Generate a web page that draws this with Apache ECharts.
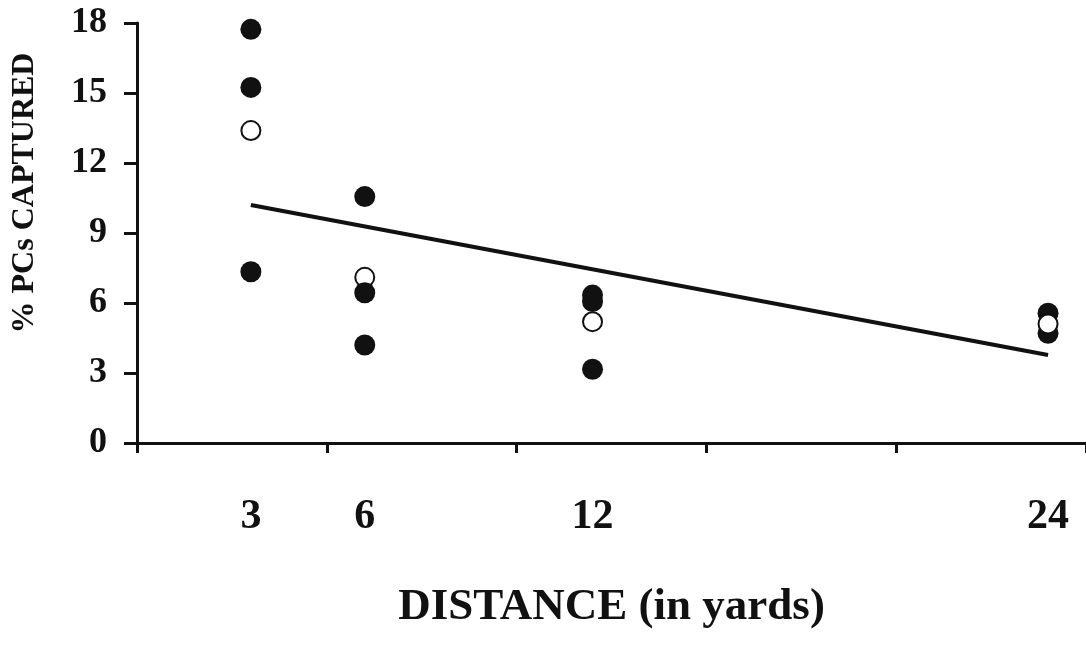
<!DOCTYPE html>
<html lang="en">
  <head>
    <meta charset="UTF-8" />
    <title>PCs captured vs distance</title>
    <script src="https://cdn.jsdelivr.net/npm/echarts@6.0.0/dist/echarts.min.js"></script>
    <style>
      * {
        padding: 0;
        margin: 0;
      }
      #main {
        width: 1086px;
        height: 647px;
        background: #ffffff;
      }
    </style>
  </head>
  <body>
    <div id="main"></div>
    <script>
      // distances shown on the x axis (yards)
      var distanceLabels = [3, 6, 12, 24];
      var yTicks = [0, 3, 6, 9, 12, 15, 18];

      // filled markers [distance, % captured]
      var filledPoints = [
        [3, 17.73], [3, 15.24], [3, 7.34],
        [6, 10.56], [6, 6.44], [6, 4.2],
        [12, 6.34], [12, 6.06], [12, 3.16],
        [24, 5.56], [24, 4.7],
      ];
      // open markers, the 24 yd one sits on top of the filled ones
      var openPointsBelow = [[3, 13.39], [6, 7.1], [12, 5.2]];
      var openPointsAbove = [[24, 5.1]];
      // regression line at its ends
      var trendLine = [[3, 10.2], [24, 3.77]];

      var ink = "#111111";
      var serif = "Liberation Serif, Times New Roman, serif";

      var myChart = echarts.init(document.getElementById("main"));
      var option = {
        backgroundColor: "#ffffff",
        animation: false,
        grid: {
          left: 137,
          right: 0,
          top: 23,
          bottom: 204,
          containLabel: false,
          outerBoundsMode: "none",
        },
        graphic: [
          {
            type: "text",
            x: 25,
            y: 193,
            rotation: Math.PI / 2,
            style: {
              text: "% PCs CAPTURED",
              font: "bold 32px " + serif,
              fill: ink,
              align: "center",
              verticalAlign: "middle",
            },
          },
        ],
        xAxis: {
          type: "value",
          min: 0,
          max: 25,
          interval: 5,
          name: "DISTANCE (in yards)",
          nameLocation: "middle",
          nameGap: 142,
          nameTextStyle: {
            fontFamily: serif,
            fontWeight: "bold",
            fontSize: 45,
            color: ink,
          },
          axisLine: {
            show: true,
            onZero: false,
            lineStyle: { color: ink, width: 3 },
          },
          axisTick: {
            show: true,
            inside: false,
            length: 10,
            lineStyle: { color: ink, width: 3 },
          },
          axisLabel: {
            customValues: distanceLabels,
            margin: 53,
            fontFamily: serif,
            fontWeight: "bold",
            fontSize: 42,
            color: ink,
          },
          splitLine: { show: false },
        },
        yAxis: {
          type: "value",
          min: yTicks[0],
          max: yTicks[yTicks.length - 1],
          interval: 3,
          axisLine: {
            show: true,
            lineStyle: { color: ink, width: 3 },
          },
          axisTick: {
            show: true,
            inside: false,
            length: 13,
            lineStyle: { color: ink, width: 3 },
          },
          axisLabel: {
            margin: 30,
            fontFamily: serif,
            fontWeight: "bold",
            fontSize: 36,
            color: ink,
          },
          splitLine: { show: false },
        },
        series: [
          {
            name: "trend",
            type: "line",
            data: trendLine,
            symbol: "none",
            lineStyle: { color: ink, width: 4 },
            z: 1,
          },
          {
            name: "open",
            type: "scatter",
            data: openPointsBelow,
            symbol: "circle",
            symbolSize: 19,
            itemStyle: { color: "#ffffff", borderColor: ink, borderWidth: 2, opacity: 1 },
            z: 2,
          },
          {
            name: "filled",
            type: "scatter",
            data: filledPoints,
            symbol: "circle",
            symbolSize: 21,
            itemStyle: { color: ink, opacity: 1 },
            z: 3,
          },
          {
            name: "open top",
            type: "scatter",
            data: openPointsAbove,
            symbol: "circle",
            symbolSize: 19,
            itemStyle: { color: "#ffffff", borderColor: ink, borderWidth: 2, opacity: 1 },
            z: 4,
          },
        ],
      };
      myChart.setOption(option);
    </script>
  </body>
</html>
